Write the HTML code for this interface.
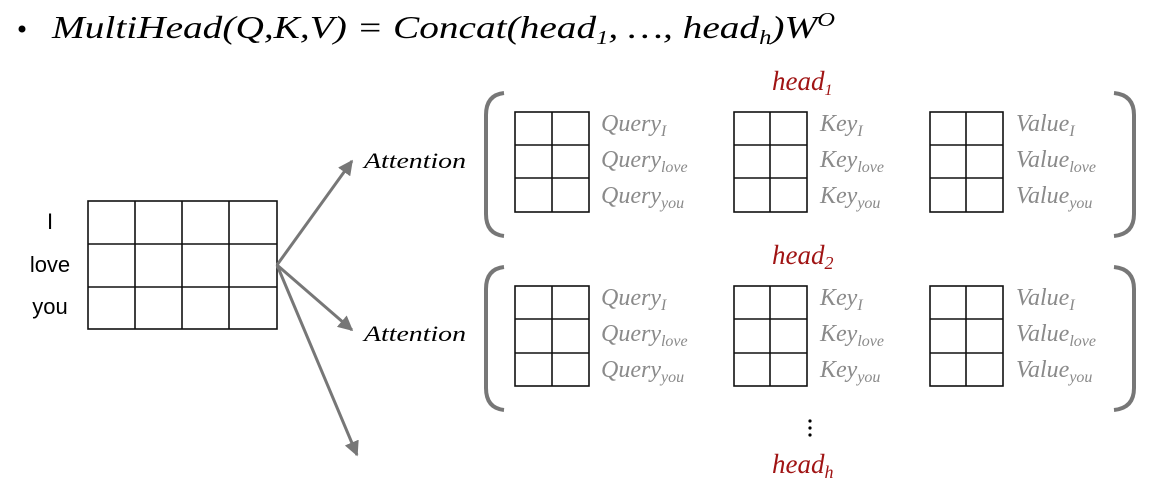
<!DOCTYPE html>
<html><head><meta charset="utf-8"><style>
html,body{margin:0;padding:0;background:#fff;}
svg{display:block;}
.m{font-family:"Liberation Serif",serif;font-style:italic;}
.g{fill:#8a8a8a;font-size:24px;}
.s{font-size:16px;}
.r{fill:#a01414;font-size:27px;}
</style></head><body>
<svg width="1173" height="498" viewBox="0 0 1173 498" xmlns="http://www.w3.org/2000/svg">
<defs>
<marker id="ah" viewBox="0 0 10 10" refX="9" refY="5" markerWidth="5" markerHeight="5" orient="auto">
<path d="M0,0 L10,5 L0,10 z" fill="#777"/></marker>
</defs>
<!-- title -->
<circle cx="22" cy="29" r="3.5" fill="#000"/>
<text class="m" x="52" y="38" font-size="32" fill="#000" textLength="783" lengthAdjust="spacingAndGlyphs">MultiHead(Q,K,V) = Concat(head<tspan font-size="20" dy="6">1</tspan><tspan dy="-6">, …, head</tspan><tspan font-size="20" dy="6">h</tspan><tspan dy="-6">)W</tspan><tspan font-size="20" dy="-12">O</tspan></text>

<!-- left words -->
<g font-family="Liberation Sans,sans-serif" font-size="22" fill="#000" text-anchor="middle">
<text x="50" y="229">I</text>
<text x="50" y="272">love</text>
<text x="50" y="314">you</text>
</g>
<!-- left grid -->
<g stroke="#111" stroke-width="1.6" fill="none">
<rect x="88" y="201" width="189" height="128"/>
<line x1="135" y1="201" x2="135" y2="329"/><line x1="182" y1="201" x2="182" y2="329"/><line x1="229" y1="201" x2="229" y2="329"/>
<line x1="88" y1="244" x2="277" y2="244"/><line x1="88" y1="287" x2="277" y2="287"/>
</g>
<!-- arrows -->
<g stroke="#777" stroke-width="3" marker-end="url(#ah)">
<line x1="277" y1="265" x2="352" y2="161"/>
<line x1="277" y1="265" x2="352" y2="330"/>
<line x1="277" y1="265" x2="357" y2="455"/>
</g>
<text class="m" x="364" y="168" font-size="22" fill="#000" textLength="102" lengthAdjust="spacingAndGlyphs">Attention</text>
<text class="m" x="364" y="341" font-size="22" fill="#000" textLength="102" lengthAdjust="spacingAndGlyphs">Attention</text>

<!-- brackets -->
<g stroke="#777" stroke-width="4" fill="none">
<path d="M504,93 Q486,95 486,115 L486,214 Q486,234 504,236"/>
<path d="M1114,93 Q1134,95 1134,115 L1134,214 Q1134,234 1114,236"/>
<path d="M504,267 Q486,269 486,289 L486,388 Q486,408 504,410"/>
<path d="M1114,267 Q1134,269 1134,289 L1134,388 Q1134,408 1114,410"/>
</g>

<!-- head labels -->
<text class="m r" x="772" y="90">head<tspan class="s" font-size="18" dy="5">1</tspan></text>
<text class="m r" x="772" y="264">head<tspan font-size="18" dy="5">2</tspan></text>
<text class="m r" x="772" y="473">head<tspan font-size="18" dy="5">h</tspan></text>
<g fill="#000"><circle cx="810" cy="421" r="1.6"/><circle cx="810" cy="428" r="1.6"/><circle cx="810" cy="435" r="1.6"/></g>

<!-- matrices -->
<g stroke="#111" stroke-width="1.6" fill="none">
<rect x="515" y="112" width="74" height="100"/><line x1="552" y1="112" x2="552" y2="212"/><line x1="515" y1="145" x2="589" y2="145"/><line x1="515" y1="178" x2="589" y2="178"/>
<rect x="734" y="112" width="73" height="100"/><line x1="770" y1="112" x2="770" y2="212"/><line x1="734" y1="145" x2="807" y2="145"/><line x1="734" y1="178" x2="807" y2="178"/>
<rect x="930" y="112" width="73" height="100"/><line x1="966" y1="112" x2="966" y2="212"/><line x1="930" y1="145" x2="1003" y2="145"/><line x1="930" y1="178" x2="1003" y2="178"/>
<rect x="515" y="286" width="74" height="100"/><line x1="552" y1="286" x2="552" y2="386"/><line x1="515" y1="319" x2="589" y2="319"/><line x1="515" y1="353" x2="589" y2="353"/>
<rect x="734" y="286" width="73" height="100"/><line x1="770" y1="286" x2="770" y2="386"/><line x1="734" y1="319" x2="807" y2="319"/><line x1="734" y1="353" x2="807" y2="353"/>
<rect x="930" y="286" width="73" height="100"/><line x1="966" y1="286" x2="966" y2="386"/><line x1="930" y1="319" x2="1003" y2="319"/><line x1="930" y1="353" x2="1003" y2="353"/>
</g>

<!-- labels head1 -->
<g class="m g">
<text x="601" y="131">Query<tspan class="s" dy="5">I</tspan></text>
<text x="601" y="167">Query<tspan class="s" dy="5">love</tspan></text>
<text x="601" y="203">Query<tspan class="s" dy="5">you</tspan></text>
<text x="820" y="131">Key<tspan class="s" dy="5">I</tspan></text>
<text x="820" y="167">Key<tspan class="s" dy="5">love</tspan></text>
<text x="820" y="203">Key<tspan class="s" dy="5">you</tspan></text>
<text x="1016" y="131">Value<tspan class="s" dy="5">I</tspan></text>
<text x="1016" y="167">Value<tspan class="s" dy="5">love</tspan></text>
<text x="1016" y="203">Value<tspan class="s" dy="5">you</tspan></text>

<text x="601" y="305">Query<tspan class="s" dy="5">I</tspan></text>
<text x="601" y="341">Query<tspan class="s" dy="5">love</tspan></text>
<text x="601" y="377">Query<tspan class="s" dy="5">you</tspan></text>
<text x="820" y="305">Key<tspan class="s" dy="5">I</tspan></text>
<text x="820" y="341">Key<tspan class="s" dy="5">love</tspan></text>
<text x="820" y="377">Key<tspan class="s" dy="5">you</tspan></text>
<text x="1016" y="305">Value<tspan class="s" dy="5">I</tspan></text>
<text x="1016" y="341">Value<tspan class="s" dy="5">love</tspan></text>
<text x="1016" y="377">Value<tspan class="s" dy="5">you</tspan></text>
</g>
</svg>
</body></html>
